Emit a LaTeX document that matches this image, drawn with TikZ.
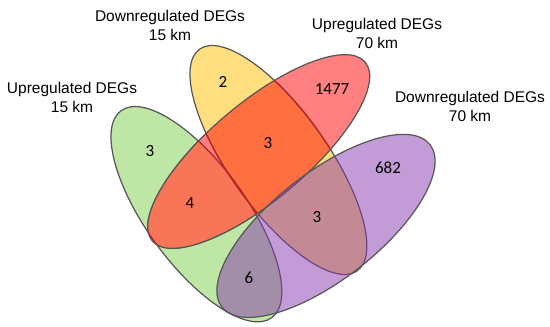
\documentclass[tikz,border=0pt]{standalone}
\usepackage{fontspec}
\setmainfont{Liberation Sans}
\newfontfamily\numfont{Carlito}
\definecolor{cgreen}{RGB}{125,205,75}
\definecolor{cyellow}{RGB}{255,189,0}
\definecolor{cred}{RGB}{255,2,2}
\definecolor{cpurple}{RGB}{135,55,175}
\definecolor{cborder}{RGB}{85,85,85}
\definecolor{cgr}{RGB}{249,117,88}
\definecolor{cdarkred}{RGB}{175,40,40}
\newcommand\pathGreen{(196.4,112.8) ellipse [x radius=128, y radius=50]}
\newcommand\pathYellow{(278.4,167) ellipse [x radius=136, y radius=49.25]}
\newcommand\pathRed{(258.7,175.5) ellipse [x radius=139, y radius=48.7]}
\newcommand\pathPurple{(326,101.1) ellipse [x radius=132, y radius=53.4]}
\begin{document}
\begin{tikzpicture}[x=1pt,y=1pt,
  venn/.style={draw=cborder, line width=1.2pt, fill opacity=0.5},
  rotG/.style={rotate around={-54:(196.4,112.8)}},
  rotY/.style={rotate around={-54.6:(278.4,167)}},
  rotR/.style={rotate around={40:(258.7,175.5)}},
  rotP/.style={rotate around={38:(326,101.1)}},
  lab/.style={font=\fontsize{15.5}{19}\selectfont, align=center, inner sep=0pt},
  num/.style={font=\numfont\fontsize{17}{20}\selectfont, inner sep=0pt}]
\useasboundingbox (0,0) rectangle (550,327);
% ellipses (drawing order: green, yellow, red, purple)
\path[venn, fill=cgreen, rotG] \pathGreen;
\path[venn, fill=cyellow, rotY] \pathYellow;
\path[venn, fill=cred, rotR] \pathRed;
% brighter green/red overlap
\begin{scope}
  \clip[rotG] \pathGreen;
  \fill[cgr, rotR] \pathRed;
  \draw[cborder, line width=1.2pt, rotR] \pathRed;
\end{scope}
\begin{scope}
  \clip[rotR] \pathRed;
  \draw[cdarkred, line width=1.2pt, rotG] \pathGreen;
  \draw[cdarkred, line width=1.2pt, rotY] \pathYellow;
\end{scope}
\path[venn, fill=cpurple, rotP] \pathPurple;
% set labels
\node[lab] (lgreen) at (72,229.5) {Upregulated DEGs\\15 km};
\node[lab] (lyellow) at (170,302) {Downregulated DEGs\\15 km};
\node[lab] (lred) at (377,294) {Upregulated DEGs\\70 km};
\node[lab] (lpurple) at (470,220.5) {Downregulated DEGs\\70 km};
% counts
\node[num] (ng) at (150,176) {3};
\node[num] (ny) at (223,245) {2};
\node[num] (nyr) at (268,184) {3};
\node[num] (nr) at (332,238) {1477};
\node[num] (np) at (388,159) {682};
\node[num] (ngr) at (190,124) {4};
\node[num] (nyp) at (317,110) {3};
\node[num] (ngp) at (249,49) {6};
\end{tikzpicture}
\end{document}
